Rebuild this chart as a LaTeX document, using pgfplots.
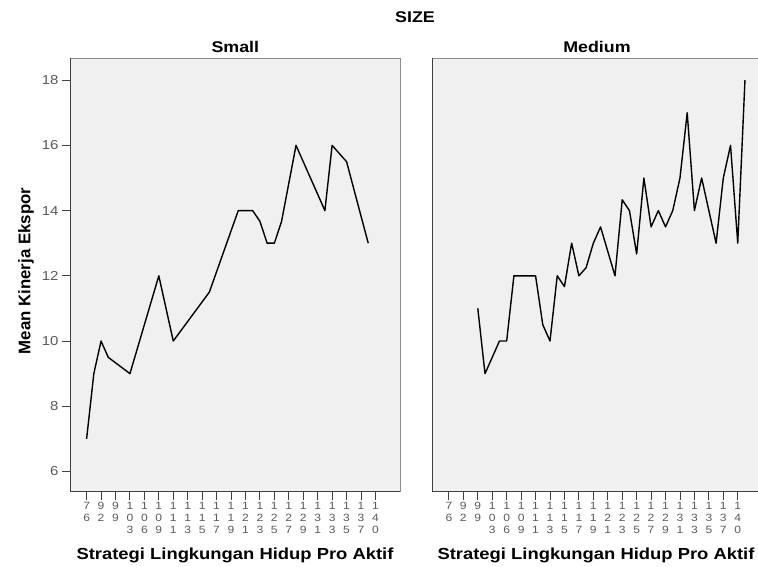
\documentclass[border=0pt]{standalone}
\usepackage{pgfplots}
\pgfplotsset{compat=1.18}
\usepackage{fontspec}
\setmainfont{Liberation Sans}[FakeStretch=1.15]
\newfontfamily\yfont{Liberation Sans}
\definecolor{panelbg}{HTML}{F0F0F0}
\definecolor{frameD}{HTML}{404040}
\definecolor{frameL}{HTML}{8C8C8C}
\definecolor{ticklab}{HTML}{5A5A5A}
\pgfplotsset{panel/.style={
  scale only axis, width=330pt, height=433.4pt, anchor=south west,
  xmin=-2.3, xmax=43.4, ymin=5.38, ymax=18.67,
  axis background/.style={fill=panelbg},
  axis line style={draw=frameL, line width=0.9pt},
  clip=false,
  tick align=outside, major tick length=8pt,
  tick style={frameD, line width=0.9pt},
  xtick pos=bottom, ytick pos=left,
  xtick={0,2,...,40},
  xticklabels={{7\\6},{9\\2},{9\\9},{1\\0\\3},{1\\0\\6},{1\\0\\9},{1\\1\\1},{1\\1\\3},{1\\1\\5},{1\\1\\7},{1\\1\\9},{1\\2\\1},{1\\2\\3},{1\\2\\5},{1\\2\\7},{1\\2\\9},{1\\3\\1},{1\\3\\3},{1\\3\\5},{1\\3\\7},{1\\4\\0}},
  xticklabel style={align=center, font=\fontsize{10.5}{12.3}\selectfont, text=ticklab, inner sep=2pt},
  yticklabel style={font=\fontsize{13}{14}\selectfont, text=ticklab},
  /pgf/number format/assume math mode=true,
}}
\begin{document}
\begin{tikzpicture}[x=1pt,y=1pt]
\useasboundingbox (0,0) rectangle (758,567);
\begin{axis}[panel, at={(70pt,75.3pt)}, ytick={6,8,...,18}]
\draw[frameD, line width=1pt] (rel axis cs:0,1) -- (rel axis cs:0,0) -- (rel axis cs:1,0);
\addplot[black, line width=1.4pt, line join=round] coordinates {
(0,7) (1,9) (2,10) (3,9.5) (6,9) (10,12) (12,10) (17,11.5) (21,14) (23,14)
(24,13.67) (25,13) (26,13) (27,13.67) (29,16) (33,14) (34,16) (36,15.5) (39,13)
};
\end{axis}
\begin{axis}[panel, at={(432.3pt,75.3pt)}, ytick=\empty]
\draw[frameD, line width=1pt] (rel axis cs:0,1) -- (rel axis cs:0,0) -- (rel axis cs:1,0);
\addplot[black, line width=1.4pt, line join=round] coordinates {
(4,11) (5,9) (7,10) (8,10) (9,12) (12,12) (13,10.5) (14,10) (15,12) (16,11.67)
(17,13) (18,12) (19,12.25) (20,13) (21,13.5) (23,12) (24,14.33) (25,14) (26,12.67)
(27,15) (28,13.5) (29,14) (30,13.5) (31,14) (32,15) (33,17) (34,14) (35,15)
(37,13) (38,15) (39,16) (40,13) (41,18)
};
\end{axis}
\node[font=\bfseries\fontsize{15.5}{17}\selectfont] at (415,550) {SIZE};
\node[font=\bfseries\fontsize{15.5}{17}\selectfont] at (235.3,520) {Small};
\node[font=\bfseries\fontsize{15.5}{17}\selectfont] at (597,520) {Medium};
\node[font=\yfont\bfseries\fontsize{16.8}{18}\selectfont, rotate=90] at (26,296) {Mean Kinerja Ekspor};
\node[font=\bfseries\fontsize{16}{18}\selectfont, anchor=base] at (235,7) {Strategi Lingkungan Hidup Pro Aktif};
\node[font=\bfseries\fontsize{16}{18}\selectfont, anchor=base] at (596,7) {Strategi Lingkungan Hidup Pro Aktif};
\end{tikzpicture}
\end{document}
